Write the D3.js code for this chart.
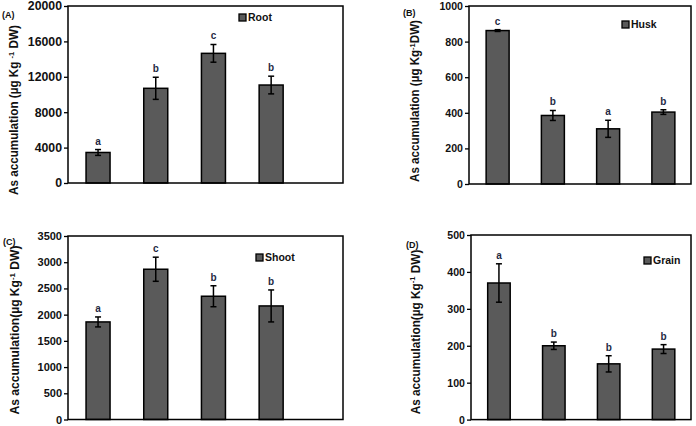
<!DOCTYPE html>
<html><head><meta charset="utf-8">
<script src="https://cdn.jsdelivr.net/npm/d3@7"></script>
<style>body{margin:0;background:#fff}svg{display:block}</style>
</head><body>
<svg id="c" width="696" height="426"></svg>
<script>
const categories = ["T1","T2","T3","T4"];
const rootMeans = [3450, 10700, 14650, 11070];
const rootErr = [330, 1250, 1000, 1000];
const rootLetters = ["a","b","c","b"];
const rootTicks = [0, 4000, 8000, 12000, 16000, 20000];
const huskMeans = [862, 385, 310, 404];
const huskErr = [5, 28, 48, 13];
const huskLetters = ["c","b","a","b"];
const huskTicks = [0, 200, 400, 600, 800, 1000];
const shootMeans = [1861, 2866, 2351, 2166];
const shootErr = [95, 230, 200, 305];
const shootLetters = ["a","c","b","b"];
const shootTicks = [0, 500, 1000, 1500, 2000, 2500, 3000, 3500];
const grainMeans = [370, 200, 151, 191];
const grainErr = [52, 10, 22, 12];
const grainLetters = ["a","b","b","b"];
const grainTicks = [0, 100, 200, 300, 400, 500];

const panels = [
  {tag:"(A)", name:"Root", means:rootMeans, err:rootErr, letters:rootLetters, ticks:rootTicks,
   frame:[68,6,343,183], band:[69.2,300], pi:0.584, tickFont:12.3,
   tagPos:[2,18], legend:[239,14], label:{x:18,y:110,size:12.5,len:170, parts:["As accumulation (µg Kg ","-1"," DW)"]}},
  {tag:"(B)", name:"Husk", means:huskMeans, err:huskErr, letters:huskLetters, ticks:huskTicks,
   frame:[469,6,691,184], band:[470,691], pi:0.584, tickFont:10.6,
   tagPos:[403,16], legend:[622,21], label:{x:419,y:101,size:12,len:162, parts:["As accumulation (µg Kg","-1","DW)"]}},
  {tag:"(C)", name:"Shoot", means:shootMeans, err:shootErr, letters:shootLetters, ticks:shootTicks,
   frame:[68,236,343,419.5], band:[69.2,300], pi:0.584, tickFont:11,
   tagPos:[3,245], legend:[256,254], label:{x:18.5,y:330,size:12,len:169, parts:["As accumulation(µg Kg","-1"," DW)"]}},
  {tag:"(D)", name:"Grain", means:grainMeans, err:grainErr, letters:grainLetters, ticks:grainTicks,
   frame:[471,235,691,419.6], band:[471.5,691], pi:0.59, tickFont:10.6,
   tagPos:[406,248], legend:[644,257], label:{x:419.5,y:332,size:12,len:165, parts:["As accumulation(µg Kg","-1"," DW)"]}}
];

const svg = d3.select("#c");
const FONT = "'Liberation Sans', Arial, sans-serif";
const BAR = "#5a5a5a";

panels.forEach(p => {
  const [x0,y0,x1,y1] = p.frame;
  const g = svg.append("g");
  const y = d3.scaleLinear().domain([0, d3.max(p.ticks)]).range([y1, y0]);
  const x = d3.scaleBand().domain(categories).range(p.band).paddingInner(p.pi).paddingOuter(p.pi/2);

  const ax = g.append("g").attr("transform", `translate(${x0},0)`)
    .call(d3.axisLeft(y).tickValues(p.ticks).tickSize(4).tickPadding(2).tickFormat(d3.format("d")));
  ax.select(".domain").remove();
  ax.selectAll("line").attr("stroke","#000").attr("stroke-width",1.3);
  ax.selectAll("text").attr("font-family",FONT).attr("font-weight","bold").attr("font-size",p.tickFont).attr("fill","#111");

  const data = categories.map((c,i)=>({c, v:p.means[i], e:p.err[i], l:p.letters[i]}));
  g.selectAll("rect.bar").data(data).join("rect").attr("class","bar")
    .attr("x", d=>x(d.c)).attr("width", x.bandwidth())
    .attr("y", d=>y(d.v)).attr("height", d=>y(0)-y(d.v))
    .attr("fill", BAR).attr("stroke","#000").attr("stroke-width",1.5);

  const eb = g.selectAll("g.eb").data(data).join("g").attr("class","eb");
  const cx = d=>x(d.c)+x.bandwidth()/2;
  eb.append("line").attr("x1",cx).attr("x2",cx).attr("y1",d=>y(d.v+d.e)).attr("y2",d=>y(d.v-d.e))
    .attr("stroke","#000").attr("stroke-width",1.5);
  [1,-1].forEach(s=>{
    eb.append("line").attr("x1",d=>cx(d)-3).attr("x2",d=>cx(d)+3)
      .attr("y1",d=>y(d.v+s*d.e)).attr("y2",d=>y(d.v+s*d.e))
      .attr("stroke","#000").attr("stroke-width",1.5);
  });
  eb.append("text").attr("x",cx).attr("y",d=>y(d.v+d.e)-5).attr("text-anchor","middle")
    .attr("font-family",FONT).attr("font-weight","bold").attr("font-size",10).attr("fill","#1f2a44")
    .text(d=>d.l);

  g.append("rect").attr("x",x0).attr("y",y0).attr("width",x1-x0).attr("height",y1-y0)
    .attr("fill","none").attr("stroke","#000").attr("stroke-width",1.5);

  const [lx,ly] = p.legend;
  g.append("rect").attr("x",lx).attr("y",ly).attr("width",7).attr("height",7)
    .attr("fill",BAR).attr("stroke","#000").attr("stroke-width",1.3);
  g.append("text").attr("x",lx+9).attr("y",ly+7.3).attr("font-family",FONT).attr("font-weight","bold")
    .attr("font-size",10.5).attr("fill","#111").text(p.name);

  g.append("text").attr("x",p.tagPos[0]).attr("y",p.tagPos[1]).attr("font-family",FONT).attr("font-weight","bold")
    .attr("font-size",9).attr("fill","#111").text(p.tag);

  const L = p.label;
  const t = g.append("text").attr("transform",`translate(${L.x},${L.y}) rotate(-90)`)
    .attr("text-anchor","middle").attr("font-family",FONT).attr("font-weight","bold")
    .attr("font-size",L.size).attr("fill","#111");
  t.append("tspan").text(L.parts[0]);
  t.append("tspan").attr("baseline-shift","super").attr("font-size",L.size*0.65).text(L.parts[1]);
  t.append("tspan").text(L.parts[2]);
  // condense along the text direction to the measured label length
  const w = t.node().getComputedTextLength();
  if (w > 0) {
    const k = L.len / w;
    t.attr("transform",`translate(${L.x},${L.y}) rotate(-90) scale(${k},1)`);
  }
});
</script>
</body></html>
